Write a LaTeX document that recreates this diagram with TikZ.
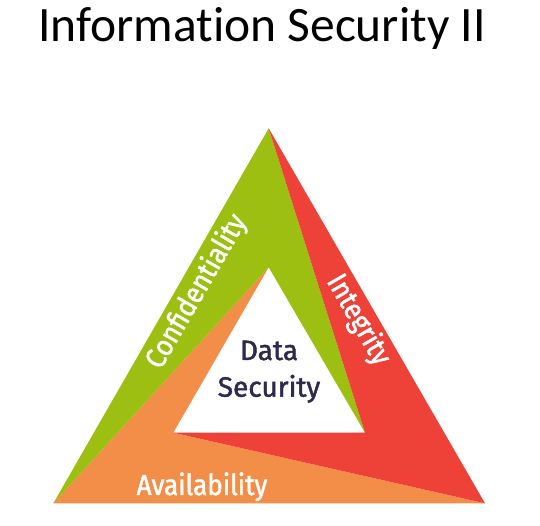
\documentclass[tikz,border=0pt]{standalone}
\usepackage{fontspec}
\newfontfamily\titlefont{Carlito}[Ligatures=NoCommon]
\newfontfamily\lblfont{Fira Sans}[FakeStretch=0.9, FakeBold=1.6]
\newfontfamily\corefont{Fira Sans}[FakeBold=1.6]
\definecolor{cgreen}{HTML}{9CBF12}
\definecolor{cred}{HTML}{EE4137}
\definecolor{corange}{HTML}{F38E48}
\definecolor{cnavy}{HTML}{2E2A4C}
\tikzset{
  lbl/.style={font=\lblfont\fontsize{29}{30}\selectfont, text=white, inner sep=0pt},
  core/.style={font=\corefont\fontsize{28}{36}\selectfont, text=cnavy, inner sep=0pt, align=center},
}
\begin{document}
\begin{tikzpicture}[x=1pt,y=1pt]
\useasboundingbox (0,0) rectangle (540,526);
\coordinate (A) at (268.7,397.7);
\coordinate (BL) at (53.3,22.7);
\coordinate (BR) at (485,22.7);
\coordinate (a) at (268.7,258.7);
\coordinate (bl) at (173.3,93.3);
\coordinate (br) at (365,93.3);
\fill[corange] (BL) -- (BR) -- (bl) -- (a) -- cycle;
\fill[cgreen] (A) -- (BL) -- (a) -- (br) -- cycle;
\fill[cred] (A) -- (BR) -- (bl) -- (br) -- cycle;
\node[anchor=base, font=\titlefont\fontsize{49.5}{52}\selectfont, inner sep=0pt] (title) at (262,484.3) {Information Security II};
\node[lbl, rotate=60] (conf) at (196.7,234.3) {Confidentiality};
\node[lbl, rotate=-60] (integ) at (358.3,206) {Integrity};
\node[lbl, anchor=base] (avail) at (202,31) {Availability};
\node[core, anchor=base] (data) at (269,166) {Data};
\node[core, anchor=base] (sec) at (269,129.3) {Security};
\end{tikzpicture}
\end{document}
